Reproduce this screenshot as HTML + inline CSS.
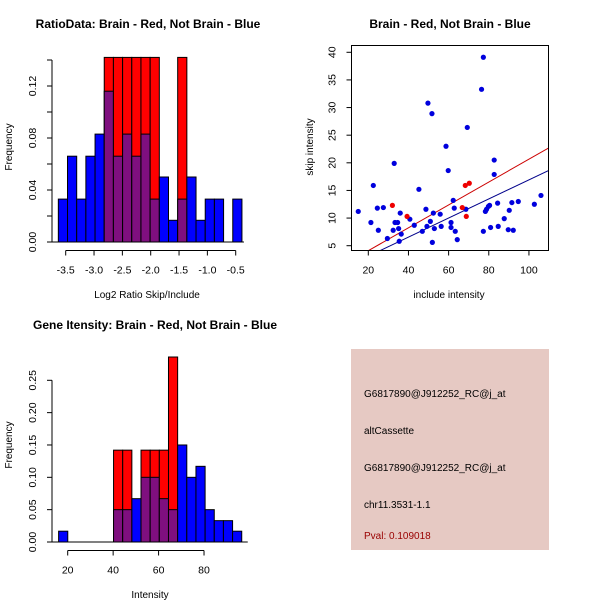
<!DOCTYPE html>
<html><head><meta charset="utf-8"><style>
body{margin:0;background:#fff}
svg{display:block;font-family:"Liberation Sans",sans-serif}
</style></head><body>
<svg id="c" width="600" height="600" viewBox="0 0 600 600" xmlns="http://www.w3.org/2000/svg">
<rect width="600" height="600" fill="#fff"/>
<text x="148" y="28" font-size="12" font-weight="bold" text-anchor="middle">RatioData: Brain - Red, Not Brain - Blue</text>
<text x="147" y="298" font-size="10" text-anchor="middle">Log2 Ratio Skip/Include</text>
<text transform="translate(12,147) rotate(-90)" font-size="10" text-anchor="middle">Frequency</text>
<text x="450" y="28" font-size="12" font-weight="bold" text-anchor="middle">Brain - Red, Not Brain - Blue</text>
<text x="449" y="298" font-size="10" text-anchor="middle">include intensity</text>
<text transform="translate(313,147) rotate(-90)" font-size="10" text-anchor="middle">skip intensity</text>
<text x="155" y="329" font-size="12" font-weight="bold" text-anchor="middle">Gene Itensity: Brain - Red, Not Brain - Blue</text>
<text x="150" y="598" font-size="10" text-anchor="middle">Intensity</text>
<text transform="translate(12,445) rotate(-90)" font-size="10" text-anchor="middle">Frequency</text>
<g>
<rect x="351" y="349" width="198" height="201" fill="#e6c9c3"/>
<text x="364" y="397" font-size="10">G6817890@J912252_RC@j_at</text>
<text x="364" y="434" font-size="10">altCassette</text>
<text x="364" y="471" font-size="10">G6817890@J912252_RC@j_at</text>
<text x="364" y="508" font-size="10">chr11.3531-1.1</text>
<text x="364" y="539" font-size="10" fill="#990000">Pval: 0.109018</text>
</g>
</svg>
<script>
// Panel 1 data
const ratioStart = -3.63, ratioBin = 0.162;
const ratioBlue = [0.033,0.066,0.033,0.066,0.083,0.116,0.066,0.083,0.066,0.083,0.033,0.05,0.0167,0.033,0.05,0.0167,0.033,0.033,0,0.033];
const ratioRed  = [0,0,0,0,0,0.142,0.142,0.142,0.142,0.142,0.142,0,0,0.142,0,0,0,0,0,0];
const ratioXTicks = [-3.5,-3.0,-2.5,-2.0,-1.5,-1.0,-0.5];
const ratioYTicks = [0,0.02,0.04,0.06,0.08,0.10,0.12,0.14];
const ratioYLabels = ["0.00","","0.04","","0.08","","0.12",""];
// Panel 2 data
const blueX = [15.0,21.3,22.5,24.5,25,27.5,29.5,32.4,32.9,33.3,34.6,35.1,35.4,35.9,36.4,40.7,42.9,45.2,46.9,48.7,49.2,49.7,50.9,51.7,51.9,52.4,52.9,55.8,56.3,58.7,59.8,61.2,61.2,62.3,62.8,63.3,64.3,68.6,69.3,76.4,77.3,77.3,78.3,78.9,79.8,80.4,80.9,82.7,82.7,84.4,84.7,87.7,89.7,90.2,91.5,92.2,94.7,102.7,106.0];
const blueY = [11.2,9.2,15.9,11.8,7.8,11.9,6.3,7.8,19.9,9.2,9.2,8.1,5.8,10.9,7.1,9.8,8.7,15.2,7.6,11.6,8.5,30.8,9.4,28.9,5.6,10.9,8.1,10.7,8.5,23.0,18.6,9.2,8.3,13.2,11.8,7.6,6.1,11.6,26.4,33.3,39.1,7.6,11.2,11.6,12.1,12.3,8.3,20.5,17.9,12.7,8.5,9.9,7.9,11.4,12.8,7.8,13.0,12.5,14.1];
const redX = [32.0,39.3,66.8,68.3,68.8,70.3];
const redY = [12.3,10.3,11.9,15.9,10.3,16.3];
const redFit = [-0.04,0.207];   // intercept, slope
const blueFit = [-0.35,0.1726];
const scatterXTicks = [20,40,60,80,100];
const scatterYTicks = [5,10,15,20,25,30,35,40];
// Panel 3 data
const intStart = 16, intBin = 4.03;
const intBlue = [0.0167,0,0,0,0,0,0.05,0.05,0.067,0.1,0.1,0.067,0.05,0.15,0.1,0.117,0.05,0.033,0.033,0.0167];
const intRed  = [0,0,0,0,0,0,0.142,0.142,0,0.142,0.142,0.142,0.286,0,0,0,0,0,0,0];
const intXTicks = [20,40,60,80];
const intYTicks = [0,0.05,0.10,0.15,0.20,0.25];
const intYLabels = ["0.00","0.05","0.10","0.15","0.20","0.25"];

const svg = document.getElementById('c');
const NS = 'http://www.w3.org/2000/svg';
function mk(tag, attrs, parent){const e=document.createElementNS(NS,tag);for(const k in attrs)e.setAttribute(k,attrs[k]);(parent||svg).appendChild(e);return e;}

function hist(g, start, bin, blue, red, sx, sy){
  for(let i=0;i<blue.length;i++){
    const x0=sx(start+i*bin), x1=sx(start+(i+1)*bin);
    if(red[i]>0){
      const r=mk('rect',{x:x0,y:sy(red[i]),width:x1-x0,height:sy(0)-sy(red[i]),fill:'#ff0000',stroke:'#000','stroke-width':1},g);
      
      
      if(blue[i]>0){
        const p=mk('rect',{x:x0,y:sy(blue[i]),width:x1-x0,height:sy(0)-sy(blue[i]),fill:'#7f0f7f',stroke:'#000','stroke-width':1},g);
        
        
      }
    } else if(blue[i]>0){
      const b=mk('rect',{x:x0,y:sy(blue[i]),width:x1-x0,height:sy(0)-sy(blue[i]),fill:'#0000ff',stroke:'#000','stroke-width':1},g);
      
      
    }
  }
}
function yaxis(g,x,ticks,labels,sy){
  mk('line',{x1:x,x2:x,y1:sy(ticks[0]),y2:sy(ticks[ticks.length-1]),stroke:'#000'},g);
  ticks.forEach((t,i)=>{
    mk('line',{x1:x-5,x2:x,y1:sy(t),y2:sy(t),stroke:'#000'},g);
    if(labels[i]){const tx=mk('text',{transform:`translate(${x-16},${sy(t)}) rotate(-90)`,'font-size':10.5,'text-anchor':'middle'},g);tx.textContent=labels[i];
      
      }
  });
}
function xaxis(g,y,ticks,labels,sx){
  mk('line',{x1:sx(ticks[0]),x2:sx(ticks[ticks.length-1]),y1:y,y2:y,stroke:'#000'},g);
  ticks.forEach((t,i)=>{
    mk('line',{x1:sx(t),x2:sx(t),y1:y,y2:y+5,stroke:'#000'},g);
    const tx=mk('text',{x:sx(t),y:y+23,'font-size':10.5,'text-anchor':'middle'},g);tx.textContent=labels[i];
    
    
  });
}

// Panel 1
{
  const g=mk('g',{});
  
  
  const sx=v=>65.7+(v+3.5)*56.67, sy=v=>242-v*1300;
  hist(g,ratioStart,ratioBin,ratioBlue,ratioRed,sx,sy);
  mk('line',{x1:52,x2:sx(ratioStart+20*ratioBin)+2,y1:242,y2:242,stroke:'#000'},g);
  yaxis(g,52,ratioYTicks,ratioYLabels,sy);
  xaxis(g,250.5,ratioXTicks,ratioXTicks.map(v=>v.toFixed(1)),sx);
}
// Panel 2
{
  const g=mk('g',{});
  
  
  const sx=v=>368.3+(v-20)*2.008, sy=v=>245.7-(v-5)*5.526;
  const L=351.5,R=548.5,T=45.5,B=250.5;
  const clip=mk('clipPath',{id:'pc'},g);mk('rect',{x:L,y:T,width:R-L,height:B-T},clip);
  const pg=mk('g',{'clip-path':'url(#pc)'},g);
  const xl=(L-368.3)/2.008+20, xr=(R-368.3)/2.008+20;
  const rl=mk('line',{x1:sx(xl),y1:sy(redFit[0]+redFit[1]*xl),x2:sx(xr),y2:sy(redFit[0]+redFit[1]*xr),stroke:'#cc0000','stroke-width':1},pg);
  
  
  const bl=mk('line',{x1:sx(xl),y1:sy(blueFit[0]+blueFit[1]*xl),x2:sx(xr),y2:sy(blueFit[0]+blueFit[1]*xr),stroke:'#00008b','stroke-width':1},pg);
  
  
  blueX.forEach((x,i)=>{const c=mk('circle',{cx:sx(x),cy:sy(blueY[i]),r:2.6,fill:'#0000dd'},pg);
    
    });
  redX.forEach((x,i)=>{const c=mk('circle',{cx:sx(x),cy:sy(redY[i]),r:2.6,fill:'#ee0000'},pg);
    
    });
  mk('rect',{x:L,y:T,width:R-L,height:B-T,fill:'none',stroke:'#000'},g);
  scatterYTicks.forEach(t=>{
    mk('line',{x1:L-5,x2:L,y1:sy(t),y2:sy(t),stroke:'#000'},g);
    const tx=mk('text',{transform:`translate(${L-16},${sy(t)}) rotate(-90)`,'font-size':10.5,'text-anchor':'middle'},g);tx.textContent=t;
    
    
  });
  scatterXTicks.forEach(t=>{
    mk('line',{x1:sx(t),x2:sx(t),y1:B,y2:B+5,stroke:'#000'},g);
    const tx=mk('text',{x:sx(t),y:B+23,'font-size':10.5,'text-anchor':'middle'},g);tx.textContent=t;
    
    
  });
}
// Panel 3
{
  const g=mk('g',{});
  
  
  const sx=v=>67.7+(v-20)*2.272, sy=v=>542-v*646.8;
  hist(g,intStart,intBin,intBlue,intRed,sx,sy);
  mk('line',{x1:52,x2:sx(intStart+20*intBin)+6,y1:542,y2:542,stroke:'#000'},g);
  yaxis(g,52,intYTicks,intYLabels,sy);
  xaxis(g,550.5,intXTicks,intXTicks.map(String),sx);
}
</script>
</body></html>
